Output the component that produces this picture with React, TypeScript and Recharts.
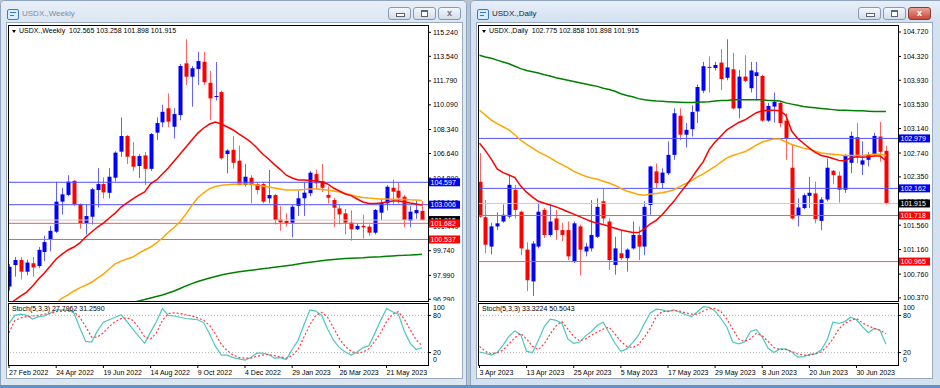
import React from 'react'
import { ComposedChart, Bar, Line, XAxis, YAxis, ReferenceLine } from 'recharts'

const FONT = '"Liberation Sans", Arial, sans-serif'

// ---------- weekly (left window) ----------
const wDates = ['27 Feb 2022', '24 Apr 2022', '19 Jun 2022', '14 Aug 2022', '9 Oct 2022', '4 Dec 2022', '29 Jan 2023', '26 Mar 2023', '21 May 2023']
const wOpen = [97.2, 98.72, 99.08, 98.25, 98.85, 98.65, 99.65, 100.55, 101.09, 103.22, 103.7, 104.7, 103.05, 101.7, 102.15, 104.05, 104.47, 103.85, 104.92, 106.77, 107.88, 106.46, 105.75, 106.5, 105.55, 108.12, 108.85, 109.85, 108.54, 109.37, 113.04, 112.09, 112.64, 113.15, 111.66, 110.66, 111.0, 106.6, 106.9, 106.13, 104.4, 104.92, 104.47, 104.47, 103.45, 103.69, 101.96, 101.85, 101.73, 102.92, 103.46, 103.82, 105.18, 104.69, 103.7, 103.34, 102.74, 102.39, 101.73, 101.26, 101.5, 101.45, 101.02, 102.44, 103.1, 104.21, 104.0, 103.57, 101.87, 102.4, 102.565]
const wHigh = [98.8, 99.3, 99.3, 99.1, 99.3, 100.0, 100.8, 101.5, 104.64, 104.2, 105.1, 104.75, 103.1, 103.0, 104.2, 105.6, 104.95, 105.6, 106.8, 109.2, 107.95, 107.45, 106.6, 106.75, 108.1, 109.2, 110.1, 110.9, 109.85, 113.0, 114.74, 112.85, 113.86, 113.86, 112.5, 113.13, 111.1, 106.94, 107.88, 107.2, 105.9, 105.1, 104.6, 104.6, 105.47, 103.75, 102.9, 102.4, 103.0, 104.0, 104.6, 105.4, 105.5, 105.9, 104.3, 103.5, 103.0, 102.7, 102.6, 101.7, 102.3, 101.6, 102.7, 103.4, 104.4, 104.8, 104.6, 103.7, 102.9, 103.3, 103.258]
const wLow = [96.9, 97.9, 97.7, 98.0, 97.9, 98.5, 99.0, 99.7, 101.0, 102.3, 103.6, 102.9, 101.3, 100.9, 101.6, 102.8, 103.45, 103.45, 104.64, 106.4, 105.9, 105.4, 104.9, 104.4, 105.4, 107.6, 108.5, 108.5, 107.7, 109.0, 111.5, 109.96, 111.5, 111.5, 109.0, 110.4, 106.2, 105.23, 105.57, 104.4, 104.3, 103.1, 103.75, 103.1, 103.1, 101.6, 101.15, 101.45, 100.69, 102.2, 102.2, 103.6, 104.1, 103.9, 103.1, 101.4, 101.6, 100.9, 100.45, 101.2, 100.6, 100.8, 100.9, 101.9, 102.6, 103.0, 103.1, 101.4, 101.4, 102.0, 101.898]
const wClose = [98.6, 99.08, 98.25, 98.9, 98.55, 99.8, 100.35, 101.15, 103.22, 103.74, 104.64, 103.05, 101.7, 102.2, 104.1, 104.47, 103.88, 104.99, 106.7, 107.88, 106.41, 105.7, 106.46, 105.55, 108.02, 108.8, 109.6, 108.9, 109.44, 112.85, 112.09, 112.69, 113.2, 111.7, 110.55, 110.72, 106.3, 106.85, 105.98, 104.4, 104.99, 104.4, 104.05, 103.22, 103.69, 101.92, 101.75, 101.7, 102.86, 103.46, 103.86, 105.28, 104.52, 104.21, 103.5, 102.79, 102.32, 101.73, 101.26, 101.5, 101.4, 101.02, 102.63, 103.15, 104.28, 103.93, 103.5, 101.92, 102.51, 102.63, 101.915]
const wMaFast = [95.9, 96.24, 96.53, 96.8, 97.24, 97.73, 98.16, 98.65, 99.15, 99.5, 99.79, 100.0, 100.29, 100.71, 101.07, 101.42, 101.7, 102.06, 102.41, 102.84, 103.13, 103.41, 103.69, 103.91, 104.48, 104.76, 105.18, 105.61, 106.1, 106.6, 107.1, 107.6, 108.09, 108.45, 108.73, 108.87, 108.73, 108.52, 108.31, 108.02, 107.74, 107.45, 107.05, 106.6, 106.25, 105.85, 105.5, 105.1, 104.9, 104.76, 104.76, 104.72, 104.69, 104.62, 104.48, 104.19, 103.98, 103.77, 103.65, 103.41, 103.2, 103.09, 103.09, 103.12, 103.2, 103.27, 103.27, 103.2, 103.12, 103.05, 102.98]
const wMaMid = [null, null, null, null, null, null, null, null, 96.0, 96.38, 96.6, 96.88, 97.1, 97.3, 97.5, 97.8, 98.08, 98.44, 98.8, 99.0, 99.15, 99.29, 99.57, 99.79, 100.0, 100.29, 100.64, 101.05, 101.4, 101.8, 102.35, 102.95, 103.5, 103.85, 104.15, 104.3, 104.38, 104.42, 104.46, 104.48, 104.48, 104.48, 104.4, 104.33, 104.26, 104.19, 104.12, 104.05, 104.05, 104.05, 104.08, 104.12, 104.12, 104.08, 104.05, 103.98, 103.91, 103.8, 103.69, 103.59, 103.52, 103.48, 103.45, 103.41, 103.41, 103.4, 103.37, 103.37, 103.35, 103.34, 103.3]
const wMaSlow = [null, null, null, null, null, null, null, null, null, null, null, null, null, null, null, null, null, null, null, null, 95.95, 96.06, 96.17, 96.27, 96.38, 96.49, 96.6, 96.74, 96.88, 97.06, 97.24, 97.4, 97.55, 97.68, 97.8, 97.91, 98.02, 98.1, 98.18, 98.24, 98.3, 98.35, 98.4, 98.46, 98.51, 98.57, 98.62, 98.68, 98.73, 98.8, 98.87, 98.92, 98.97, 99.03, 99.08, 99.12, 99.15, 99.18, 99.2, 99.22, 99.24, 99.27, 99.29, 99.31, 99.34, 99.37, 99.4, 99.41, 99.43, 99.46, 99.48]
const wStochK = [67, 80, 82, 80, 74, 78, 79, 84, 89, 89, 89, 84, 60, 38, 37, 55, 69, 73, 77, 81, 70, 58, 46, 35, 53, 70, 91, 80, 79, 77, 75, 74, 73, 68, 50, 30, 16, 16, 12, 10, 8, 12, 19, 19, 17, 11, 12, 9, 25, 40, 65, 89, 87, 80, 58, 40, 28, 21, 16, 21, 28, 31, 51, 72, 91, 86, 82, 55, 35, 25, 27.8]
const wStochD = [52, 72, 76, 78, 79, 80, 82, 83, 86, 87, 87, 86, 77, 62, 45, 45, 52, 62, 70, 75, 76, 72, 60, 45, 42, 52, 72, 83, 84, 83, 81, 79, 76, 72, 64, 50, 33, 23, 16, 12, 11, 11, 14, 16, 17, 15, 13, 11, 15, 25, 45, 65, 80, 85, 77, 60, 42, 30, 22, 19, 21, 26, 38, 52, 70, 82, 86, 74, 57, 41, 31.3]
const wPriceTicks = [115.24, 113.54, 111.79, 110.09, 108.34, 106.64, 104.89, 103.14, 101.44, 99.74, 97.99, 96.29]
const wResistance = [104.597, 103.006]
const wSupport = [101.682, 100.537]

// ---------- daily (right window) ----------
const dDates = ['3 Apr 2023', '13 Apr 2023', '25 Apr 2023', '5 May 2023', '17 May 2023', '29 May 2023', '8 Jun 2023', '20 Jun 2023', '30 Jun 2023']
const dOpen = [102.27, 101.69, 101.21, 101.54, 101.62, 101.7, 102.14, 101.78, 101.16, 100.64, 101.21, 101.81, 101.4, 101.67, 101.48, 101.48, 100.96, 101.54, 101.13, 101.18, 101.37, 101.95, 101.62, 100.91, 101.1, 101.02, 101.18, 101.4, 101.21, 101.89, 102.44, 102.25, 102.41, 102.71, 103.35, 103.04, 103.13, 103.42, 103.76, 104.15, 104.13, 104.22, 103.97, 104.11, 103.47, 103.99, 103.8, 104.0, 104.0, 103.27, 103.5, 103.56, 103.27, 102.5, 101.71, 101.84, 102.04, 102.08, 101.63, 101.98, 102.45, 102.37, 102.14, 102.58, 103.0, 102.55, 102.63, 102.72, 103.01, 102.775]
const dHigh = [102.74, 101.97, 101.6, 101.77, 101.9, 102.38, 102.22, 101.8, 101.28, 101.3, 101.93, 101.84, 101.9, 101.81, 101.6, 101.62, 101.62, 101.57, 101.27, 101.97, 102.0, 102.16, 101.67, 101.37, 101.48, 101.18, 101.62, 101.54, 101.95, 102.53, 102.57, 102.49, 102.93, 103.47, 103.47, 103.23, 103.52, 103.86, 104.23, 104.32, 104.23, 104.44, 104.6, 104.38, 104.1, 104.34, 104.23, 104.23, 104.02, 103.56, 103.73, 103.58, 103.39, 102.87, 102.0, 102.08, 102.35, 102.27, 102.02, 102.65, 102.46, 102.44, 102.72, 103.09, 103.23, 102.93, 102.76, 103.07, 103.25, 102.858]
const dLow = [101.68, 101.1, 101.08, 101.48, 101.6, 101.67, 101.67, 101.07, 100.48, 100.4, 101.18, 101.35, 101.37, 101.32, 101.3, 100.99, 100.94, 100.74, 101.05, 101.13, 101.35, 101.59, 100.83, 100.75, 100.99, 100.8, 101.16, 100.99, 101.07, 101.73, 102.16, 102.16, 102.38, 102.63, 102.95, 102.83, 103.01, 103.23, 103.72, 103.73, 104.09, 103.77, 103.93, 103.45, 103.31, 103.9, 103.73, 103.6, 103.25, 103.25, 103.24, 103.16, 102.63, 101.65, 101.54, 101.82, 101.84, 101.59, 101.48, 101.95, 102.23, 101.93, 102.09, 102.41, 102.57, 102.38, 102.52, 102.68, 102.6, 101.898]
const dClose = [101.7, 101.24, 101.54, 101.59, 101.73, 102.22, 101.81, 101.18, 100.66, 101.26, 101.78, 101.4, 101.62, 101.48, 101.4, 101.05, 101.59, 101.16, 101.21, 101.4, 101.86, 101.67, 100.99, 101.18, 101.02, 101.16, 101.4, 101.21, 101.86, 102.52, 102.25, 102.42, 102.71, 103.39, 103.04, 103.12, 103.41, 103.82, 104.16, 104.13, 104.18, 103.95, 104.14, 103.47, 103.99, 103.92, 104.09, 104.06, 103.27, 103.51, 103.58, 103.23, 102.98, 101.67, 101.85, 102.05, 102.09, 101.66, 101.98, 102.5, 102.38, 102.14, 102.7, 103.02, 102.71, 102.62, 102.72, 103.02, 102.76, 101.915]
const dMaFast = [102.9, 102.78, 102.64, 102.48, 102.42, 102.38, 102.34, 102.2, 102.1, 102.02, 101.95, 101.92, 101.89, 101.86, 101.82, 101.78, 101.74, 101.7, 101.66, 101.62, 101.59, 101.57, 101.54, 101.51, 101.48, 101.46, 101.44, 101.44, 101.5, 101.58, 101.64, 101.73, 101.84, 101.95, 102.08, 102.2, 102.33, 102.47, 102.6, 102.8, 102.92, 103.02, 103.12, 103.18, 103.24, 103.28, 103.34, 103.4, 103.43, 103.44, 103.44, 103.43, 103.36, 103.1, 102.98, 102.9, 102.82, 102.75, 102.7, 102.68, 102.65, 102.62, 102.61, 102.66, 102.68, 102.67, 102.68, 102.69, 102.69, 102.62]
const dMaMid = [103.44, 103.36, 103.28, 103.22, 103.17, 103.12, 103.04, 102.95, 102.88, 102.82, 102.76, 102.71, 102.66, 102.6, 102.55, 102.5, 102.44, 102.4, 102.36, 102.33, 102.31, 102.28, 102.25, 102.21, 102.16, 102.12, 102.09, 102.06, 102.05, 102.07, 102.08, 102.09, 102.11, 102.14, 102.19, 102.24, 102.29, 102.35, 102.4, 102.46, 102.52, 102.59, 102.66, 102.7, 102.73, 102.76, 102.81, 102.87, 102.92, 102.95, 102.97, 102.97, 102.92, 102.88, 102.85, 102.82, 102.8, 102.77, 102.74, 102.73, 102.72, 102.71, 102.7, 102.7, 102.7, 102.7, 102.71, 102.72, 102.72, 102.7]
const dMaSlow = [104.34, 104.31, 104.29, 104.26, 104.23, 104.2, 104.16, 104.12, 104.09, 104.07, 104.05, 104.02, 104.0, 103.97, 103.95, 103.93, 103.91, 103.89, 103.87, 103.85, 103.83, 103.8, 103.78, 103.75, 103.71, 103.68, 103.66, 103.63, 103.61, 103.6, 103.59, 103.585, 103.58, 103.575, 103.57, 103.565, 103.565, 103.57, 103.575, 103.58, 103.59, 103.6, 103.6, 103.61, 103.61, 103.61, 103.61, 103.61, 103.61, 103.6, 103.6, 103.59, 103.56, 103.54, 103.52, 103.5, 103.49, 103.48, 103.47, 103.46, 103.45, 103.44, 103.44, 103.435, 103.43, 103.43, 103.425, 103.42, 103.42, 103.42]
const dStochK = [21, 19, 16, 20, 32, 46, 55, 49, 22, 20, 40, 62, 74, 72, 67, 42, 35, 37, 47, 54, 64, 69, 52, 35, 22, 26, 36, 48, 67, 84, 90, 89, 86, 89, 85, 81, 78, 86, 94, 93, 87, 75, 61, 37, 34, 37, 54, 57, 45, 27, 20, 26, 26, 21, 13, 13, 17, 18, 24, 40, 69, 67, 70, 77, 73, 62, 52, 59, 56, 33.3]
const dStochD = [30, 22, 18, 20, 24, 34, 44, 51, 42, 30, 25, 34, 50, 63, 70, 58, 46, 39, 42, 48, 53, 58, 61, 50, 38, 30, 28, 33, 45, 59, 78, 86, 87, 88, 87, 84, 82, 82, 87, 91, 91, 86, 74, 58, 42, 38, 42, 51, 47, 38, 28, 25, 25, 22, 18, 16, 16, 18, 21, 30, 42, 58, 67, 72, 75, 68, 63, 59, 56, 50.5]
const dPriceTicks = [104.72, 104.32, 103.93, 103.53, 103.14, 102.74, 102.35, 101.95, 101.56, 101.16, 100.76, 100.37]
const dResistance = [102.979, 102.162]
const dSupport = [101.718, 100.965]

const lastPrice = 101.915
const stochLevels = [20, 80]

type Series = {
  open: number[]; high: number[]; low: number[]; close: number[]
  fast: (number | null)[]; mid: (number | null)[]; slow: (number | null)[]
  k: number[]; d: number[]
}

const makeRows = (s: Series) =>
  s.open.map((o, i) => ({
    i, o, h: s.high[i], l: s.low[i], c: s.close[i],
    span: [s.low[i], s.high[i]],
    fast: s.fast[i], mid: s.mid[i], slow: s.slow[i],
    k: s.k[i], d: s.d[i],
  }))

const Candle = (props: any) => {
  const { x, y, width, height, payload } = props
  if (x == null || !payload) return null
  const { o, h, l, c } = payload
  const cx = Math.round(x + width / 2) + 0.5
  const ppu = h > l ? height / (h - l) : 0
  const top = y + (h - Math.max(o, c)) * ppu
  const bot = y + (h - Math.min(o, c)) * ppu
  const up = c >= o
  return (
    <g>
      <line x1={cx} x2={cx} y1={y} y2={y + height} stroke={up ? '#6262ff' : '#ff6262'} strokeWidth={1} />
      <rect x={cx - 2} y={top} width={4} height={Math.max(1, bot - top)} fill={up ? '#0000ff' : '#ff0000'} />
    </g>
  )
}

const PriceTag = (props: any) => {
  const { viewBox, bg, price } = props
  if (!viewBox) return null
  const x = viewBox.x + viewBox.width + 1
  const y = viewBox.y
  return (
    <g>
      <rect x={x} y={y - 4} width={31} height={8} fill={bg} />
      <text x={x + 1.5} y={y + 2.6} fontSize={7} fontFamily={FONT} fill="#fff">{price.toFixed(3)}</text>
    </g>
  )
}

function Button({ left, kind, hot }: { left: number; kind: string; hot?: boolean }) {
  return (
    <div style={{
      position: 'absolute', left, top: 7, width: 23, height: 13, boxSizing: 'border-box',
      border: '1px solid ' + (hot ? '#8a3a32' : '#8799b1'), borderRadius: 3,
      background: hot ? 'linear-gradient(#e9a597, #c8463a)' : 'linear-gradient(#f4f7fb, #d3dde9)',
    }}>
      {kind === 'min' && <div style={{ position: 'absolute', left: 7, top: 5, width: 7, height: 2, border: '1px solid #5a6675', background: '#fff' }} />}
      {kind === 'max' && <div style={{ position: 'absolute', left: 7, top: 2, width: 5, height: 4, border: '1px solid #5a6675', borderTopWidth: 2, background: '#fff' }} />}
      {kind === 'close' && <div style={{ position: 'absolute', left: 0, top: 0, width: 21, textAlign: 'center', fontSize: 9, fontWeight: 'bold', fontFamily: FONT, lineHeight: '11px', color: hot ? '#fff' : '#6a7584' }}>x</div>}
    </div>
  )
}

type WinProps = {
  ox: number
  width: number
  active: boolean
  title: string
  header: string
  stochText: string
  series: Series
  yDomain: [number, number]
  xDomain: [number, number]
  priceTicks: number[]
  resistance: number[]
  support: number[]
  dates: string[]
}

function ChartWindow(p: WinProps) {
  const rows = makeRows(p.series)
  const dateTicks = p.dates.map((_, n) => n * 8)
  const frame = p.active ? '#d3e1f1' : '#dde7f2'
  const tickStyle = { fontSize: 7, fill: '#000', fontFamily: FONT }
  const svgStyle = { overflow: 'visible' as const }
  const small = { position: 'absolute' as const, fontSize: 7, fontFamily: FONT, color: '#000', whiteSpace: 'pre' as const, lineHeight: '8px' }
  return (
    <>
      <div style={{
        position: 'absolute', left: p.ox, top: 0, width: p.width, height: 386, boxSizing: 'border-box',
        border: '1px solid #8ea3bd', borderRadius: '5px 5px 0 0', background: frame,
      }} />
      <div style={{ position: 'absolute', left: p.ox + 1, top: 1, width: p.width - 2, height: 20, background: 'linear-gradient(#e8eff8, ' + frame + ')', borderRadius: '4px 4px 0 0' }} />
      <div style={{ position: 'absolute', left: p.ox + 7, top: 9, width: 10, height: 9, border: '1px solid #3a7bc8', borderRadius: 2, background: '#d8ecff' }}>
        <div style={{ position: 'absolute', left: 2, top: 2, width: 6, height: 1, background: '#3a7bc8' }} />
        <div style={{ position: 'absolute', left: 2, top: 5, width: 4, height: 1, background: '#3a7bc8' }} />
      </div>
      <div style={{ position: 'absolute', left: p.ox + 22, top: 8, fontSize: 8, fontFamily: FONT, color: p.active ? '#1b2430' : '#7b8ca2', lineHeight: '11px' }}>{p.title}</div>
      <Button left={p.ox + 388} kind="min" />
      <Button left={p.ox + 413} kind="max" />
      <Button left={p.ox + 438} kind="close" hot={p.active} />
      <div style={{ position: 'absolute', left: p.ox + 6, top: 22, width: 457, height: 357, boxSizing: 'border-box', border: '1px solid #9aabc0', background: '#fff' }} />

      {/* price panel */}
      <div style={{ position: 'absolute', left: p.ox + 8, top: 25 }}>
        <ComposedChart width={462} height={276} data={rows} margin={{ top: 0, right: 0, bottom: 0, left: 0 }} style={svgStyle}>
          <XAxis dataKey="i" type="number" domain={p.xDomain} allowDataOverflow hide />
          <YAxis orientation="right" type="number" domain={p.yDomain} allowDataOverflow width={42}
            ticks={p.priceTicks} interval={0} tick={tickStyle} tickFormatter={(v: number) => v.toFixed(3)}
            tickSize={3} tickMargin={2} axisLine={false} tickLine={{ stroke: '#000' }} />
          <ReferenceLine y={lastPrice} stroke="#cccccc" />
          {p.resistance.map((v) => <ReferenceLine key={'r' + v} y={v} stroke="#5050ff" />)}
          {p.support.map((v) => <ReferenceLine key={'s' + v} y={v} stroke="#ff5555" />)}
          <Bar dataKey="span" shape={<Candle />} barSize={4} isAnimationActive={false} />
          <Line dataKey="slow" stroke="#008000" strokeWidth={1.5} dot={false} isAnimationActive={false} />
          <Line dataKey="mid" stroke="#ffa500" strokeWidth={1.5} dot={false} isAnimationActive={false} />
          <Line dataKey="fast" stroke="#ff0000" strokeWidth={1.5} dot={false} isAnimationActive={false} />
        </ComposedChart>
      </div>
      {/* price tags, drawn above the axis labels */}
      <div style={{ position: 'absolute', left: p.ox + 8, top: 25 }}>
        <ComposedChart width={462} height={276} data={rows} margin={{ top: 0, right: 0, bottom: 0, left: 0 }} style={svgStyle}>
          <XAxis dataKey="i" type="number" domain={p.xDomain} allowDataOverflow hide />
          <YAxis orientation="right" type="number" domain={p.yDomain} allowDataOverflow width={42} tick={false} tickLine={false} axisLine={false} />
          <ReferenceLine y={lastPrice} stroke="none" label={<PriceTag bg="#000" price={lastPrice} />} />
          {p.resistance.map((v) => <ReferenceLine key={'rt' + v} y={v} stroke="none" label={<PriceTag bg="#0000ff" price={v} />} />)}
          {p.support.map((v) => <ReferenceLine key={'st' + v} y={v} stroke="none" label={<PriceTag bg="#ff0000" price={v} />} />)}
        </ComposedChart>
      </div>
      <div style={{ position: 'absolute', left: p.ox + 8, top: 25, width: 421, height: 277, boxSizing: 'border-box', border: '1px solid #000' }} />
      <div style={{ ...small, left: p.ox + 12, top: 27 }}>
        <span style={{ display: 'inline-block', width: 0, height: 0, borderLeft: '2.5px solid transparent', borderRight: '2.5px solid transparent', borderTop: '3px solid #000', marginRight: 3, verticalAlign: 'middle' }} />
        {p.header}
      </div>

      {/* stochastic panel */}
      <div style={{ position: 'absolute', left: p.ox + 8, top: 303 }}>
        <ComposedChart width={462} height={76} data={rows} margin={{ top: 0, right: 0, bottom: 0, left: 0 }} style={svgStyle}>
          <XAxis dataKey="i" type="number" domain={p.xDomain} allowDataOverflow ticks={dateTicks} interval={0}
            height={14} tickSize={3} tickMargin={1} axisLine={false} tickLine={{ stroke: '#000' }}
            tick={(t: any) => (
              <text x={t.x} y={t.y + 6} fontSize={7} fontFamily={FONT} fill="#000">{p.dates[Math.round(t.payload.value / 8)]}</text>
            )} />
          <YAxis orientation="right" type="number" domain={[0, 100]} allowDataOverflow width={42}
            ticks={stochLevels} interval={0} tickSize={3} tickMargin={2}
            axisLine={false} tickLine={{ stroke: '#000' }} tick={tickStyle} />
          {stochLevels.map((v) => <ReferenceLine key={'lv' + v} y={v} stroke="#b4b4b4" strokeDasharray="1 2" />)}
          <Line dataKey="k" stroke="#4cc8bf" strokeWidth={1.2} dot={false} isAnimationActive={false} />
          <Line dataKey="d" stroke="#ff3b3b" strokeWidth={1.2} strokeDasharray="2 2" dot={false} isAnimationActive={false} />
        </ComposedChart>
      </div>
      <div style={{ position: 'absolute', left: p.ox + 8, top: 303, width: 421, height: 63, boxSizing: 'border-box', border: '1px solid #000' }} />
      <div style={{ ...small, left: p.ox + 12, top: 305 }}>{p.stochText}</div>
      {/* panel edge scale marks 100 / 0 */}
      <div style={{ ...small, left: p.ox + 433, top: 304 }}>100</div>
      <div style={{ ...small, left: p.ox + 433, top: 356 }}>0</div>
    </>
  )
}

export default function App() {
  return (
    <div style={{ position: 'absolute', left: 0, top: 0, width: 940, height: 388, overflow: 'hidden', background: '#b9c4d0' }}>
      <ChartWindow
        ox={0} width={467} active={false}
        title="USDX.,Weekly" header="USDX.,Weekly  102.565 103.258 101.898 101.915"
        stochText="Stoch(5,3,3) 27.7962 31.2590"
        series={{ open: wOpen, high: wHigh, low: wLow, close: wClose, fast: wMaFast, mid: wMaMid, slow: wMaSlow, k: wStochK, d: wStochD }}
        yDomain={[96.17, 115.76]} xDomain={[-0.17, 71.02]}
        priceTicks={wPriceTicks} resistance={wResistance} support={wSupport} dates={wDates}
      />
      <ChartWindow
        ox={470} width={480} active={true}
        title="USDX.,Daily" header="USDX.,Daily  102.775 102.858 101.898 101.915"
        stochText="Stoch(5,3,3) 33.3224 50.5043"
        series={{ open: dOpen, high: dHigh, low: dLow, close: dClose, fast: dMaFast, mid: dMaMid, slow: dMaSlow, k: dStochK, d: dStochD }}
        yDomain={[100.32, 104.834]} xDomain={[-0.255, 71.05]}
        priceTicks={dPriceTicks} resistance={dResistance} support={dSupport} dates={dDates}
      />
      <div style={{ position: 'absolute', left: 0, top: 385, width: 940, height: 3, background: '#5d93c9' }} />
    </div>
  )
}
